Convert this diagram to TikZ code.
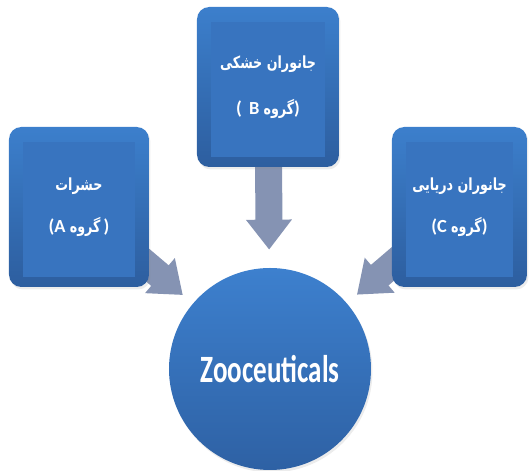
\documentclass[tikz,border=0pt]{standalone}
\usepackage{fontspec}
\setmainfont{Carlito}
\newfontfamily\farsifont[Script=Arabic]{DejaVu Sans}
\TeXXeTstate=1
\usetikzlibrary{arrows.meta, positioning, calc, backgrounds, shadows}
\definecolor{mBoxTop}{HTML}{3C7FCC}
\definecolor{mBoxBot}{HTML}{2D5E9F}
\definecolor{mPanel}{HTML}{3874BF}
\definecolor{mArrow}{HTML}{8593B3}
\definecolor{mHubTop}{HTML}{3D80CE}
\definecolor{mHubBot}{HTML}{2E61A4}
\newcommand{\fa}[1]{\scalebox{0.76}[1]{\farsifont\fontsize{9.5}{10}\selectfont\bfseries\beginR #1\endR}}

\tikzset{
  groupbox/.style={rounded corners=7pt, minimum height=3.2cm, text=white,
    top color=mBoxTop, bottom color=mBoxBot, align=center,
    font=\fontsize{10.5}{11}\selectfont\bfseries,
    drop shadow={opacity=0.15, shadow xshift=0.3mm, shadow yshift=-0.5mm},
    path picture={\fill[mPanel, sharp corners]
      ($(path picture bounding box.south west)+(0.28,0.2)$) rectangle
      ($(path picture bounding box.north east)-(0.28,0.3)$);}},
  hubnode/.style={circle, minimum size=4.04cm, text=white,
    top color=mHubTop, bottom color=mHubBot,
    drop shadow={opacity=0.15, shadow xshift=0.3mm, shadow yshift=-0.5mm}},
  bigarrow/.style={mArrow, line width=0.54cm, shorten <=-0.6cm,
    -{Triangle[width=0.88cm, length=0.6cm]}}
}

\begin{document}
\begin{tikzpicture}
    \useasboundingbox (0,0) rectangle (10.58,9.42);
    % groups
    \node[groupbox, minimum width=2.8cm] (A) at (1.58,5.28)
      {\fa{حشرات}\\[13pt](A \fa{گروه}\,)};
    \node[groupbox, minimum width=2.84cm] (B) at (5.36,7.68)
      {\fa{جانوران خشکی}\\[15pt](\, B \fa{گروه})};
    \node[groupbox, minimum width=2.7cm] (C) at (9.19,5.28)
      {\fa{جانوران دریایی}\\[13pt](C \fa{گروه})};
    % hub
    \node[hubnode] (hub) at (5.40,2.04)
      {\fontsize{22}{26}\selectfont\bfseries\scalebox{0.7}[1]{Zooceuticals}};
    % arrows
    \begin{scope}[on background layer]
      \foreach \g/\s in {A/0.26cm, B/0.36cm, C/0.26cm} {
        \draw[bigarrow, shorten >=\s] (\g) -- (hub);
      }
    \end{scope}
  \end{tikzpicture}
\end{document}
